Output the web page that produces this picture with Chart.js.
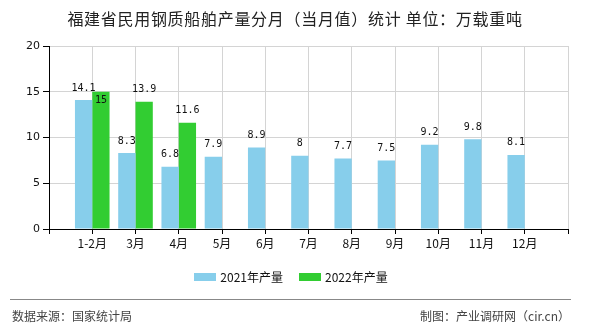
<!DOCTYPE html>
<html>
<head>
<meta charset="utf-8">
<script src="https://cdn.jsdelivr.net/npm/chart.js@4.4.1/dist/chart.umd.min.js"></script>
<style>
  html, body { margin: 0; padding: 0; background: #fff; }
  #wrap { position: relative; width: 590px; height: 330px; overflow: hidden; font-family: "Noto Sans CJK SC", sans-serif; }
  #myChart { position: absolute; left: 0; top: 0; }
  .title { position: absolute; left: 0; width: 590px; top: 8px; text-align: center; font-size: 16px; line-height: 20px; letter-spacing: 0.7px; color: #222; }
  .legend { position: absolute; left: 0; width: 582px; top: 269px; display: flex; justify-content: center; align-items: center; font-size: 12px; line-height: 16px; color: #111; }
  .legend .item { display: flex; align-items: center; margin: 0 8px; }
  .legend .box { width: 22px; height: 8px; margin-right: 4px; }
  .rule { position: absolute; left: 10px; width: 561px; top: 299px; height: 0; border-top: 1px solid #888; }
  .foot { position: absolute; top: 308px; font-size: 12px; line-height: 16px; color: #444; }
</style>
</head>
<body>
<div id="wrap">
  <canvas id="myChart" width="590" height="330"></canvas>
  <div class="title">福建省民用钢质船舶产量分月（当月值）统计 单位：万载重吨</div>
  <div class="legend" id="legend"></div>
  <div class="rule"></div>
  <div class="foot" style="left:12px">数据来源：国家统计局</div>
  <div class="foot" style="right:20px">制图：产业调研网（cir.cn）</div>
</div>
<script>
const categories = ['1-2月', '3月', '4月', '5月', '6月', '7月', '8月', '9月', '10月', '11月', '12月'];
const output2021 = [14.1, 8.3, 6.8, 7.9, 8.9, 8, 7.7, 7.5, 9.2, 9.8, 8.1];
const output2022 = [15, 13.9, 11.6, null, null, null, null, null, null, null, null];
const seriesNames = ['2021年产量', '2022年产量'];
const colors = ['#87CEEB', '#32CD32'];
const yTicks = [0, 5, 10, 15, 20];

// empty slot at each end so the axis runs one step past the first and last month
const pad = arr => [null, ...arr, null];
const labels = ['', ...categories, ''];

// value labels above bars; if one would overlap an earlier label it goes inside the bar top
const valueLabels = {
  id: 'valueLabels',
  afterDatasetsDraw(chart) {
    const {ctx} = chart;
    const placed = [];
    ctx.save();
    ctx.font = '10px "DejaVu Sans Mono", monospace';
    ctx.fillStyle = '#111';
    ctx.textAlign = 'center';
    ctx.textBaseline = 'middle';
    chart.data.datasets.forEach((ds, di) => {
      chart.getDatasetMeta(di).data.forEach((bar, i) => {
        const v = ds.data[i];
        if (v === null || v === undefined) return;
        const text = String(v);
        const w = ctx.measureText(text).width;
        let y = bar.y - 12;
        const box = {l: bar.x - w / 2, r: bar.x + w / 2, t: y - 5, b: y + 5};
        const hit = placed.some(p => box.l < p.r && box.r > p.l && box.t < p.b && box.b > p.t);
        if (hit) {
          y = bar.y + 9;
          box.t = y - 5; box.b = y + 5;
        }
        placed.push(box);
        ctx.fillText(text, bar.x, y);
      });
    });
    ctx.restore();
  }
};

const ctx = document.getElementById('myChart');
const config = {
  type: 'bar',
  data: {
    labels,
    datasets: [
      {label: seriesNames[0], data: pad(output2021), backgroundColor: colors[0]},
      {label: seriesNames[1], data: pad(output2022), backgroundColor: colors[1]}
    ]
  },
  options: {
    responsive: false,
    animation: false,
    layout: {padding: {top: 46, left: 0, right: 22, bottom: 73}},
    plugins: {
      legend: {display: false},
      tooltip: {enabled: false}
    },
    datasets: {
      bar: {categoryPercentage: 0.8, barPercentage: 1.0}
    },
    scales: {
      x: {
        offset: false,
        grid: {offset: false, color: '#d4d4d4', tickColor: '#000', tickLength: 5},
        border: {color: '#000', width: 1},
        ticks: {
          autoSkip: false, maxRotation: 0, padding: 2, color: '#111',
          font: {family: '"Noto Sans CJK SC", sans-serif', size: 12}
        },
        afterFit: s => { s.height = 28; }
      },
      y: {
        min: 0,
        max: 20,
        afterBuildTicks: s => { s.ticks = yTicks.map(value => ({value})); },
        grid: {color: '#d4d4d4', tickColor: '#000', tickLength: 6},
        border: {color: '#000', width: 1},
        ticks: {
          padding: 3, color: '#111',
          font: {family: '"DejaVu Sans", sans-serif', size: 11}
        },
        afterFit: s => { s.width = 49; }
      }
    }
  },
  plugins: [valueLabels]
};

new Chart(ctx, config);

const legend = document.getElementById('legend');
seriesNames.forEach((name, i) => {
  const item = document.createElement('div');
  item.className = 'item';
  item.innerHTML = '<span class="box" style="background:' + colors[i] + '"></span><span>' + name + '</span>';
  legend.appendChild(item);
});
</script>
</body>
</html>
